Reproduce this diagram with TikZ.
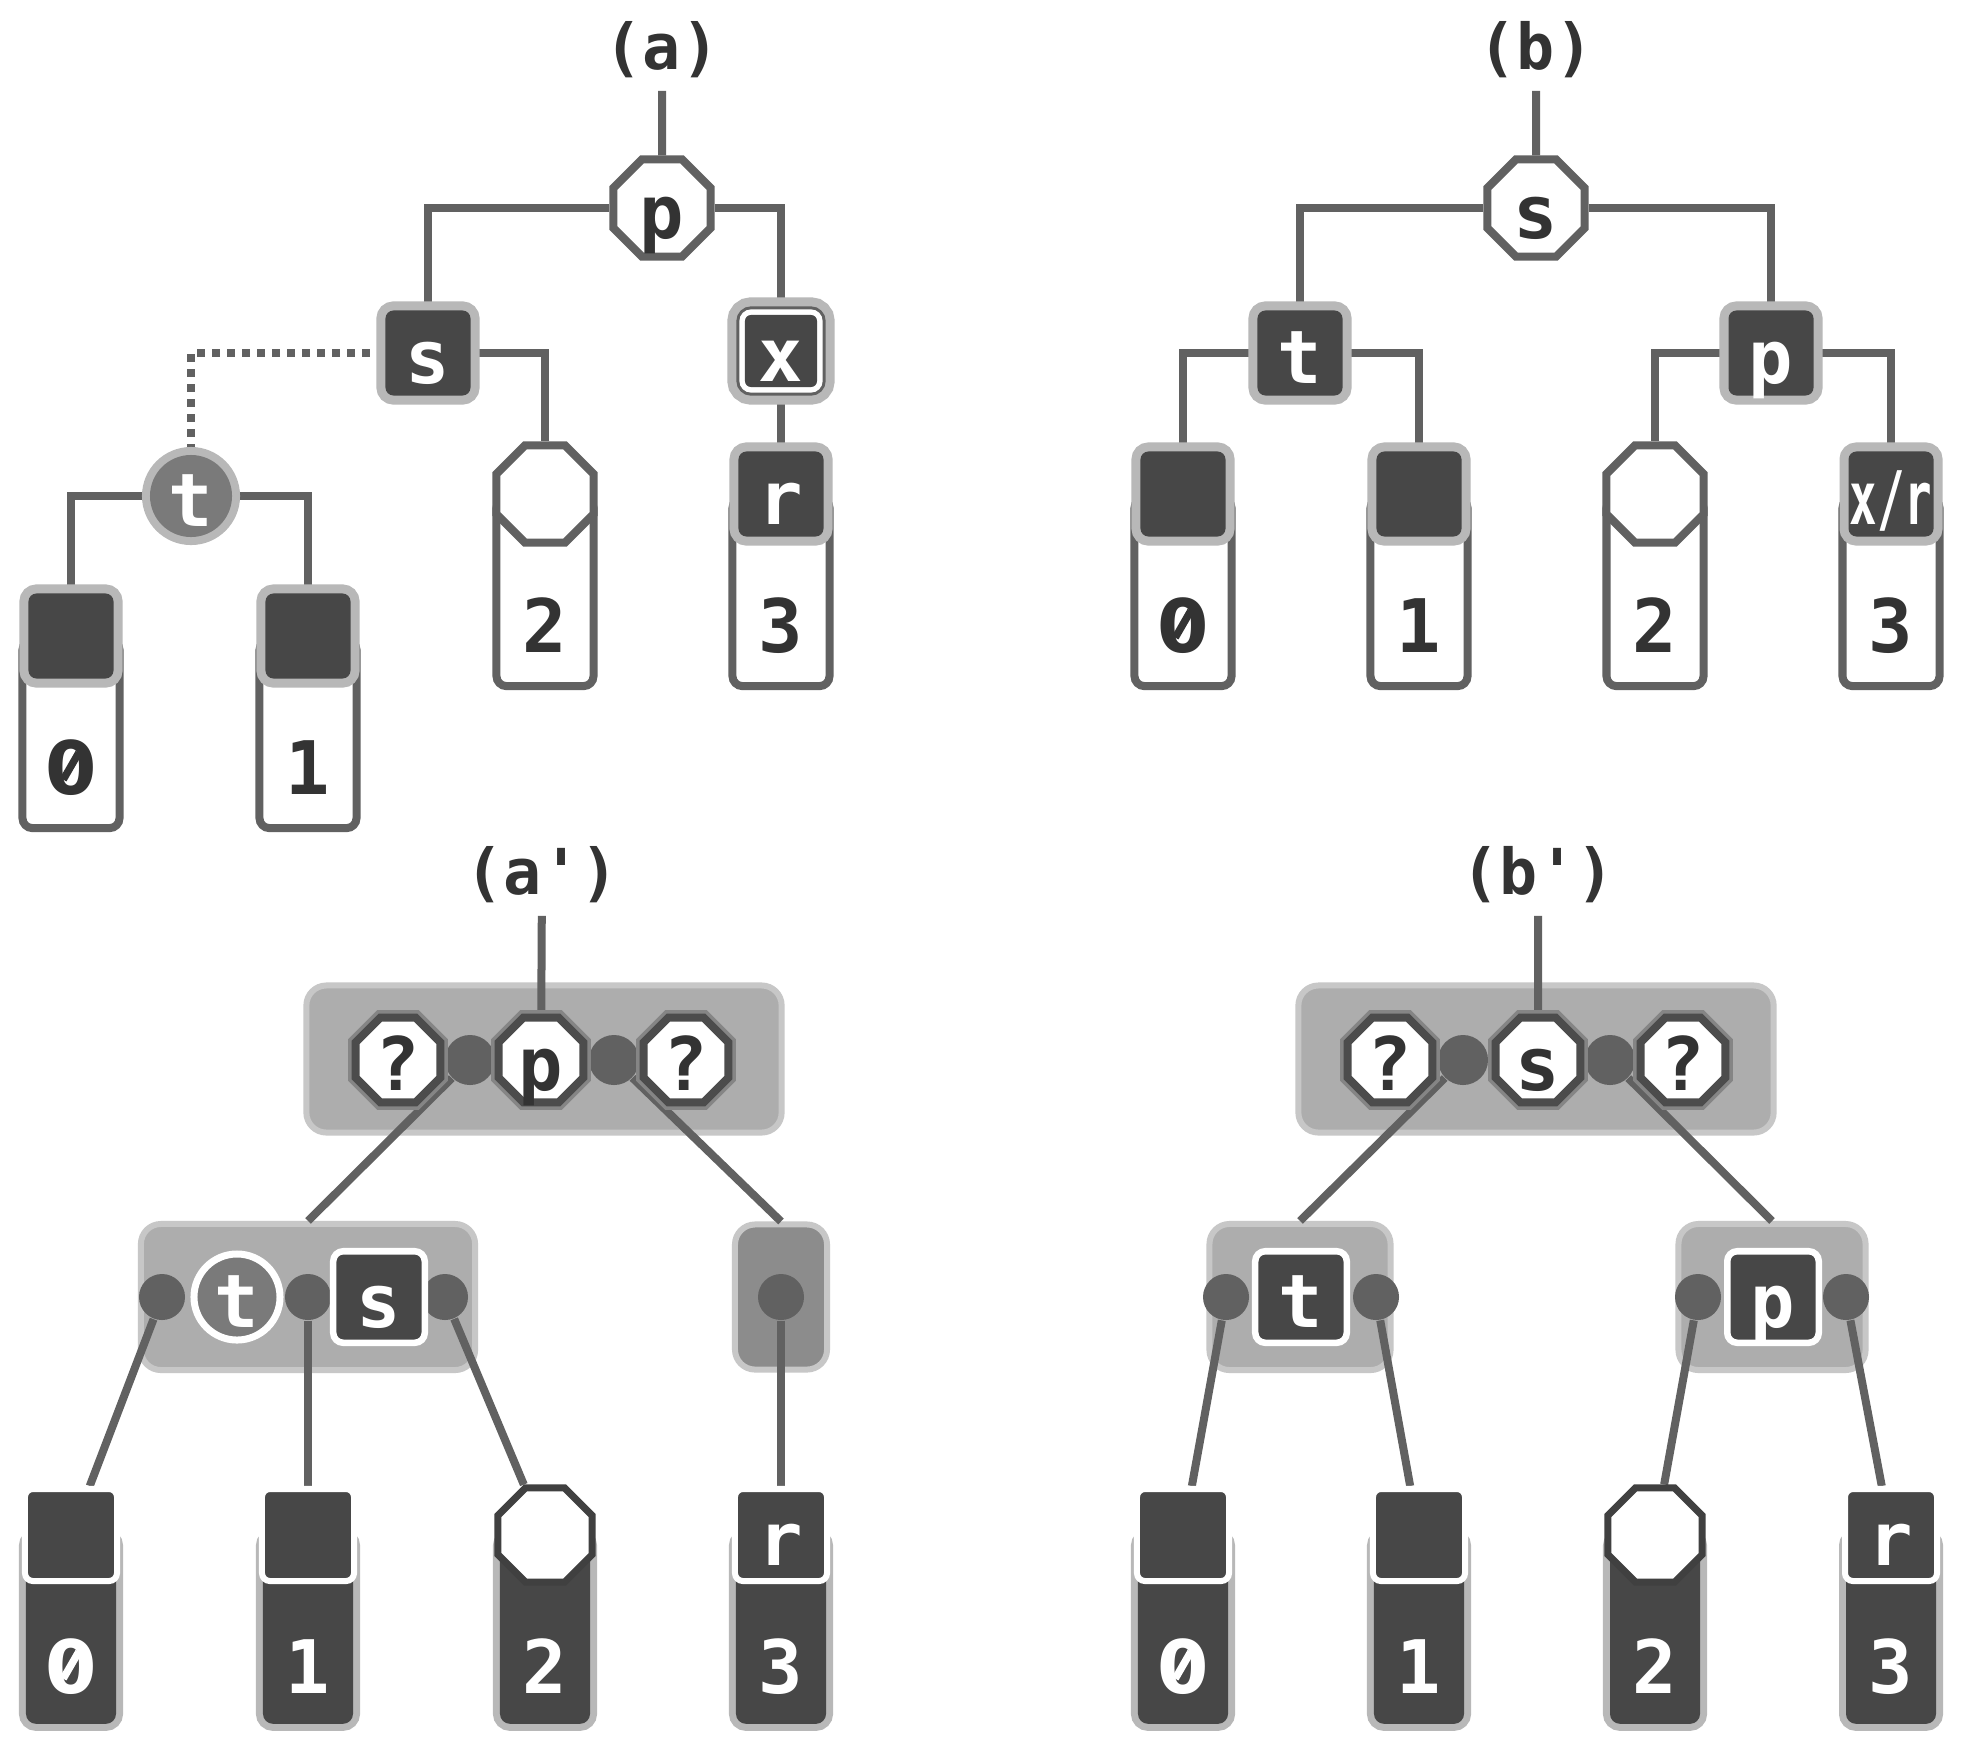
\documentclass[tikz,border=0pt]{standalone}
\usepackage{fontspec}
\usepackage{xcolor}
\usepackage{tikz}
\usetikzlibrary{shapes.geometric}
\newfontfamily\monof{DejaVu Sans Mono}
\newfontfamily\dvs{DejaVu Sans}
\newcommand{\nodefont}{\monof\bfseries\fontsize{21}{21}\selectfont}
\newcommand{\labfont}{\monof\bfseries\fontsize{18}{18}\selectfont}
\newcommand{\slz}{\ooalign{\hfil{\dvs\bfseries 0}\hfil\cr\hfil\raisebox{0.17em}{\rotatebox{60}{\rule{0.42em}{0.1em}}}\hfil\cr}}
\pgfdeclarelayer{back}
\pgfdeclarelayer{mid}
\pgfsetlayers{back,mid,main}
\colorlet{edgec}{black!62}
\colorlet{darkc}{black!72}
\colorlet{haloc}{black!28}
\colorlet{boxc}{black!32}
\tikzset{
 edge/.style={edgec, line width=0.08cm},
 dotedge/.style={edgec, line width=0.08cm, dash pattern=on 0.08cm off 0.07cm},
 lab/.style={font=\labfont, text=black!80, inner sep=0.12cm},
 txt/.style={font=\nodefont, inner sep=0pt, text height=0.6cm, text depth=0cm},
 octa/.style={txt, regular polygon, regular polygon sides=8, minimum size=1.05cm, fill=white, draw=edgec, line width=0.08cm, text=black!80},
 smocta/.style={txt, regular polygon, regular polygon sides=8, minimum size=0.84cm, fill=white, draw=black!70, line width=0.08cm, text=black!80, preaction={draw=black!48, line width=0.15cm}},
 headsq/.style={txt, rectangle, rounded corners=0.08cm, minimum size=0.85cm, fill=darkc, text=white, preaction={draw=haloc, line width=0.18cm}},
 xbox/.style={txt, rectangle, rounded corners=0.06cm, minimum size=0.72cm, fill=darkc, text=white, preaction={draw=haloc, line width=0.35cm}, preaction={draw=edgec, line width=0.17cm}, preaction={draw=white, line width=0.11cm}},
 tcirc/.style={txt, circle, minimum size=0.82cm, fill=black!52, text=white, preaction={draw=haloc, line width=0.16cm}},
 wcirc/.style={txt, circle, minimum size=0.86cm, fill=black!52, text=white, draw=white, line width=0.07cm},
 wsq/.style={txt, rectangle, rounded corners=0.1cm, minimum size=0.915cm, fill=darkc, text=white, draw=white, line width=0.065cm},
 leafsq/.style={txt, rectangle, rounded corners=0.08cm, minimum size=0.92cm, fill=darkc, text=white, draw=white, line width=0.06cm},
 leafoct/.style={txt, regular polygon, regular polygon sides=8, minimum size=1.02cm, fill=white, draw=black!75, line width=0.07cm},
 bodyw/.style={rectangle, rounded corners=0.1cm, minimum width=0.97cm, minimum height=1.88cm, anchor=north, fill=white, draw=edgec, line width=0.08cm},
 bodyd/.style={rectangle, rounded corners=0.1cm, minimum width=0.9cm, minimum height=1.88cm, anchor=north, fill=darkc, preaction={draw=haloc, line width=0.14cm}},
 digw/.style={font=\nodefont, anchor=base, text=white},
 digd/.style={font=\nodefont, anchor=base, text=black!80},
 grp/.style={rectangle, rounded corners=0.2cm, fill=boxc, draw=black!22, line width=0.06cm},
 blob/.style={circle, minimum size=0.46cm, inner sep=0pt, fill=black!62},
}

\begin{document}
\begin{tikzpicture}[x=0.01cm, y=-0.01cm]
\useasboundingbox (0,0) rectangle (1964,1742);
\begin{pgfonlayer}{back}
\fill[white] (0,0) rectangle (1964,1742);
\end{pgfonlayer}

\node[lab] (la) at (662,50) {(a)};
\node[octa] (pa) at (662,208) {p};
\node[headsq] (sa) at (428,353) {s};
\node[xbox] (xa) at (781,351) {x};
\node[tcirc] (ta) at (191,496) {t};
\foreach \i/\x/\d in {0/71/\slz, 1/308/1} {
 \node[bodyw] (ab\i) at (\x,636) {};
 \node[headsq] (ah\i) at (\x,636) {};
 \node[digd] (an\i) at (\x,794) {\d};
}
\node[bodyw] (ab2) at (545,494) {};
\node[octa] (ah2) at (545,494) {};
\node[digd] (an2) at (545,652) {2};
\node[bodyw] (ab3) at (781,494) {};
\node[headsq] (ah3) at (781,494) {r};
\node[digd] (an3) at (781,652) {3};

\node[lab] (lb) at (1536,50) {(b)};
\node[octa] (sb) at (1536,208) {s};
\node[headsq] (tb) at (1300,353) {t};
\node[headsq] (pb) at (1771,353) {p};
\foreach \i/\x/\d in {0/1183/\slz, 1/1419/1, 2/1655/2, 3/1891/3} {
 \node[bodyw] (bb\i) at (\x,494) {};
 \node[digd] (bn\i) at (\x,652) {\d};
}
\node[headsq] (bh0) at (1183,494) {};
\node[headsq] (bh1) at (1419,494) {};
\node[octa] (bh2) at (1655,494) {};
\node[headsq] (bh3) at (1891,494) {\scalebox{0.62}[1]{x/r}};

\begin{pgfonlayer}{back}
\node[grp, minimum width=4.75cm, minimum height=1.47cm] (gc) at (544,1059) {};
\node[grp, minimum width=3.34cm, minimum height=1.46cm] (gct) at (308,1297) {};
\node[grp, fill=black!45, minimum width=0.92cm, minimum height=1.45cm] (gcr) at (781,1297) {};
\node[grp, minimum width=4.75cm, minimum height=1.47cm] (gd) at (1536,1059) {};
\node[grp, minimum width=1.81cm, minimum height=1.46cm] (gdt) at (1300,1297) {};
\node[grp, minimum width=1.87cm, minimum height=1.46cm] (gdp) at (1772,1297) {};
\end{pgfonlayer}

\node[lab] (lc) at (542,875) {(a\textquotesingle)};
\node[blob, minimum size=0.5cm] (kc1) at (470,1060) {};
\node[blob, minimum size=0.5cm] (kc2) at (614,1060) {};
\node[smocta] (qc1) at (398,1060) {?};
\node[smocta] (pc) at (541,1060) {p};
\node[smocta] (qc2) at (686,1060) {?};
\node[blob] (jc1) at (162,1297) {};
\node[blob] (jc2) at (308,1297) {};
\node[blob] (jc3) at (445,1297) {};
\node[blob] (jc4) at (781,1297) {};
\node[wcirc] (tc) at (237,1297) {t};
\node[wsq] (sc) at (379,1297) {s};

\node[lab] (ld) at (1538,875) {(b\textquotesingle)};
\node[blob, minimum size=0.5cm] (kd1) at (1463,1060) {};
\node[blob, minimum size=0.5cm] (kd2) at (1610,1060) {};
\node[smocta] (qd1) at (1390,1060) {?};
\node[smocta] (sd) at (1538,1060) {s};
\node[smocta] (qd2) at (1683,1060) {?};
\node[blob] (jd1) at (1226,1297) {};
\node[blob] (jd2) at (1376,1297) {};
\node[blob] (jd3) at (1698,1297) {};
\node[blob] (jd4) at (1846,1297) {};
\node[wsq] (td) at (1301,1297) {t};
\node[wsq] (pd) at (1773,1297) {p};

\foreach \i/\x/\d in {0/71/\slz, 1/308/1, 2/545/2, 3/781/3} {
 \node[bodyd] (cb\i) at (\x,1535) {};
 \node[digw] (cn\i) at (\x,1693) {\d};
}
\node[leafsq] (ch0) at (71,1535) {};
\node[leafsq] (ch1) at (308,1535) {};
\node[leafoct] (ch2) at (545,1535) {};
\node[leafsq] (ch3) at (781,1535) {r};
\foreach \i/\x/\d in {0/1183/\slz, 1/1419/1, 2/1655/2, 3/1891/3} {
 \node[bodyd] (db\i) at (\x,1535) {};
 \node[digw] (dn\i) at (\x,1693) {\d};
}
\node[leafsq] (dh0) at (1183,1535) {};
\node[leafsq] (dh1) at (1419,1535) {};
\node[leafoct] (dh2) at (1655,1535) {};
\node[leafsq] (dh3) at (1891,1535) {r};

\begin{pgfonlayer}{mid}
\draw[edge] (la) -- (pa);
\draw[edge] (pa) -| (sa);
\draw[edge] (pa) -| (xa);
\draw[edge] (xa) -- (ah3);
\draw[edge] (sa) -| (ah2);
\draw[dotedge] (sa) -| (ta);
\draw[edge] (ta) -| (ah0);
\draw[edge] (ta) -| (ah1);
\draw[edge] (lb) -- (sb);
\draw[edge] (sb) -| (tb);
\draw[edge] (sb) -| (pb);
\draw[edge] (tb) -| (bh0);
\draw[edge] (tb) -| (bh1);
\draw[edge] (pb) -| (bh2);
\draw[edge] (pb) -| (bh3);
\draw[edge] (lc) -- (pc);
\draw[edge] (kc1) -- (gct.north);
\draw[edge] (kc2) -- (gcr.north);
\draw[edge] (jc1) -- (ch0);
\draw[edge] (jc2) -- (ch1);
\draw[edge] (jc3) -- (ch2);
\draw[edge] (jc4) -- (ch3);
\draw[edge] (ld) -- (sd);
\draw[edge] (kd1) -- (gdt.north);
\draw[edge] (kd2) -- (gdp.north);
\draw[edge] (jd1) -- (dh0);
\draw[edge] (jd2) -- (dh1);
\draw[edge] (jd3) -- (dh2);
\draw[edge] (jd4) -- (dh3);
\end{pgfonlayer}
\end{tikzpicture}
\end{document}
